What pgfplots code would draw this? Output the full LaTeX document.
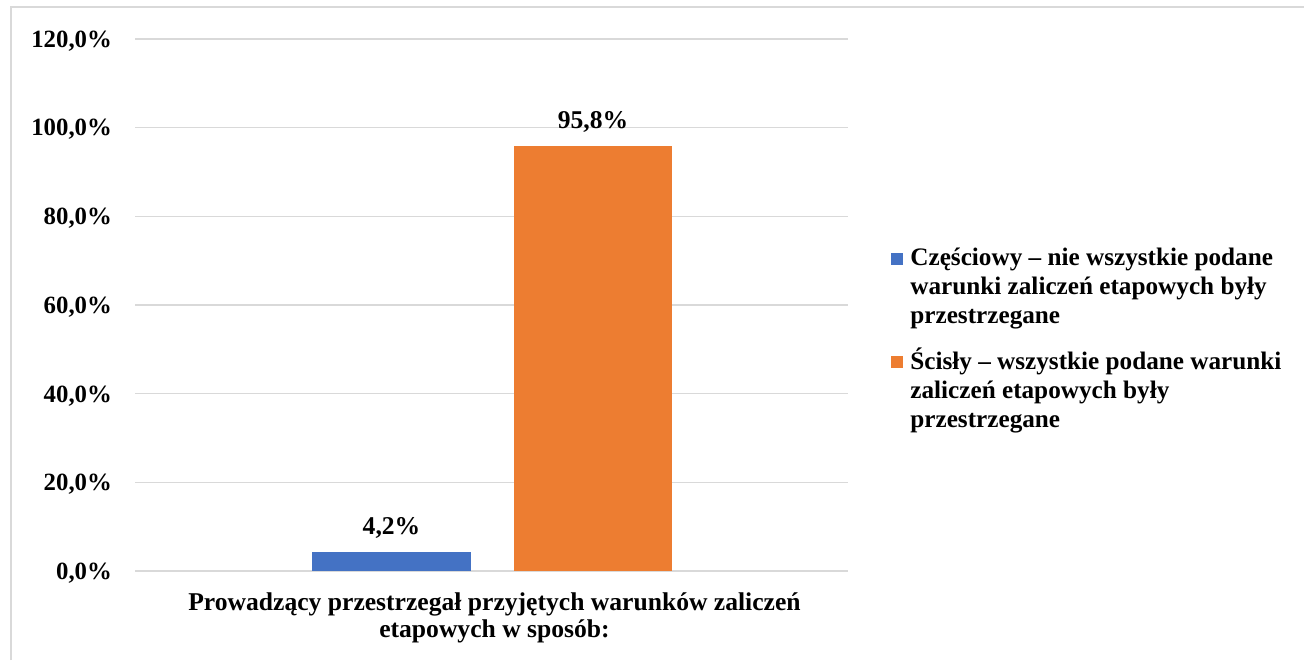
\documentclass[border=0pt]{standalone}
\usepackage{pgfplots}
\pgfplotsset{compat=1.18}
\usepackage{fontspec}
\setmainfont{Liberation Serif}
\definecolor{barblue}{HTML}{4472C4}
\definecolor{barorange}{HTML}{ED7D31}
\definecolor{gridgray}{HTML}{D9D9D9}
\definecolor{framegray}{HTML}{D9D9D9}
\begin{document}
\begin{tikzpicture}[x=0.5pt,y=0.5pt]
\useasboundingbox (0,0) rectangle (1304,660);
\draw[framegray, line width=1.2pt] (11,0) -- (11,653) -- (1304,653);
\begin{axis}[
  at={(67.5pt,44.5pt)}, anchor=south west,
  scale only axis, width=356.5pt, height=266pt,
  xmin=135, xmax=848, ymin=0, ymax=120,
  ytick={0,20,...,120},
  ymajorgrids, grid style={gridgray, line width=0.75pt},
  axis line style={draw=none},
  axis x line*=bottom,
  x axis line style={draw=gridgray, line width=0.75pt},
  y axis line style={draw=none},
  tick style={draw=none},
  xtick={491.5},
  xticklabels={Prowadzący przestrzegał przyjętych warunków zaliczeń\\etapowych w sposób:},
  xticklabel style={align=center, font=\bfseries\fontsize{12.8}{13.8}\selectfont, yshift=-3pt, xshift=1.5pt},
  /pgf/number format/assume math mode=true,
  yticklabel={\pgfmathprintnumber[fixed,fixed zerofill,precision=1,use comma]{\tick}\%},
  yticklabel style={font=\bfseries\fontsize{12.4}{14}\selectfont, xshift=-8pt, yshift=-1pt},
  ybar, bar shift=0pt,
  nodes near coords,
  nodes near coords style={font=\bfseries\fontsize{12.8}{14}\selectfont, yshift=3.5pt},
  point meta=explicit symbolic,
  legend style={at={(1.0603,0.622)}, anchor=north west, draw=none, inner sep=0pt,
    cells={anchor=north west}, row sep=7.5pt,
    nodes={inner sep=1pt, align=left, font=\bfseries\fontsize{12.6}{14.5}\selectfont}},
  legend image code/.code={\fill[#1] (0pt,-12pt) rectangle (6pt,-6pt); \path (8.5pt,-6pt);},
]
\addplot[fill=barblue, draw=none, bar width=159] coordinates {(391.5,4.2) [4,2\%]};
\addlegendentry{\rule{0pt}{11.5pt}Częściowy – nie wszystkie podane\\warunki zaliczeń etapowych były\\przestrzegane}
\addplot[fill=barorange, draw=none, bar width=158] coordinates {(593,95.8) [95,8\%]};
\addlegendentry{\rule{0pt}{11.5pt}Ścisły – wszystkie podane warunki\\zaliczeń etapowych były\\przestrzegane}
\end{axis}
\end{tikzpicture}
\end{document}
